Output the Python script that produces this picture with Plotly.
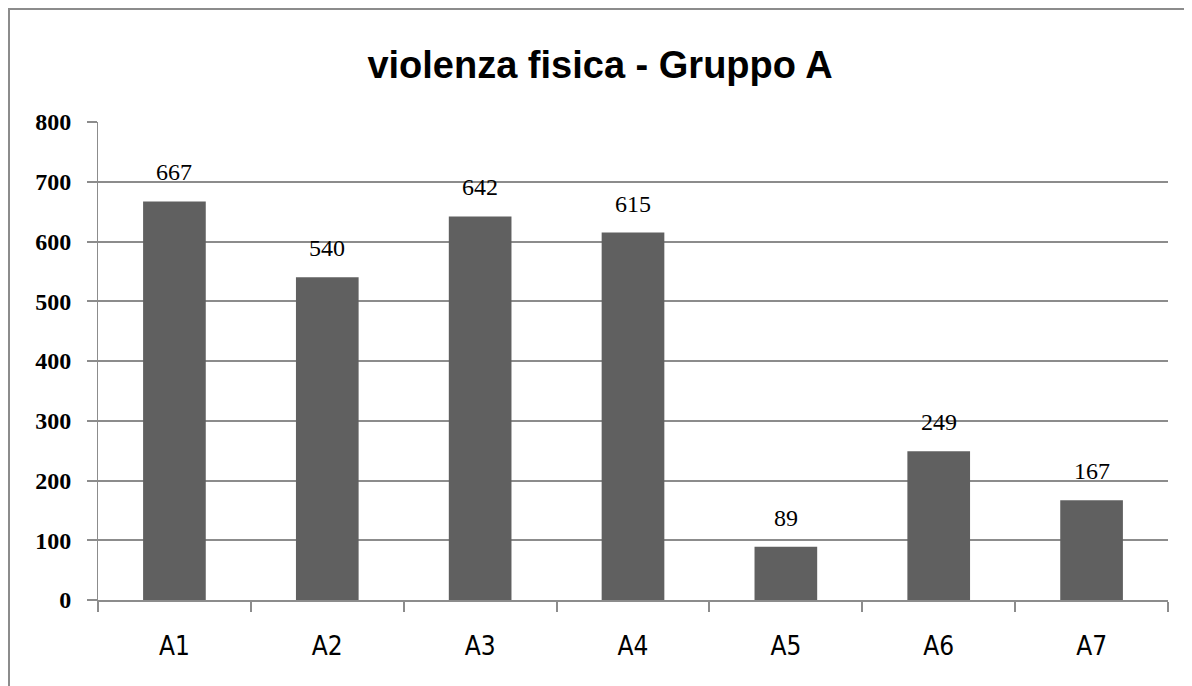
import plotly.graph_objects as go

categories = ["A1", "A2", "A3", "A4", "A5", "A6", "A7"]
values = [667, 540, 642, 615, 89, 249, 167]
y_ticks = [0, 100, 200, 300, 400, 500, 600, 700, 800]
title_text = "violenza fisica - Gruppo A"

# page has an 8px body margin, so figure is slightly smaller
W, H = 1184, 678
L, R, T, B = 90, 24, 114, 86
pw, ph = W - L - R, H - T - B

fig = go.Figure()
fig.add_trace(go.Bar(
    x=categories, y=values,
    marker=dict(color="#606060", line=dict(width=0)),
    width=0.41,
    hoverinfo="x+y",
))

for c, v in zip(categories, values):
    fig.add_annotation(
        x=c, y=v, text=str(v), showarrow=False,
        yshift=29, font=dict(family="Liberation Serif, Times New Roman", size=24, color="#000000"),
    )

# Chart border (left and top edges visible)
fig.add_shape(
    type="rect", xref="paper", yref="paper",
    x0=(1 - L) / pw, x1=(W + 20 - L) / pw,
    y0=-(B + 20) / ph, y1=(H - B - 1) / ph,
    line=dict(color="#8c8c8c", width=2), fillcolor="rgba(0,0,0,0)", layer="below",
)

fig.update_layout(
    width=W, height=H,
    margin=dict(l=L, r=R, t=T, b=B),
    paper_bgcolor="white", plot_bgcolor="white",
    showlegend=False,
    bargap=0.59,
    title=dict(
        text="<b>" + title_text + "</b>",
        x=0.5, xanchor="center", xref="container",
        y=1 - 57 / H, yanchor="middle",
        font=dict(family="Liberation Sans, Arial", size=38, color="#000000"),
    ),
    xaxis=dict(
        type="category",
        tickson="boundaries",
        ticks="outside", ticklen=10, tickcolor="#8c8c8c", tickwidth=2,
        showline=True, linecolor="#8c8c8c", linewidth=2,
        showgrid=False,
        tickfont=dict(family="Liberation Sans Narrow, DejaVu Sans Condensed, Liberation Sans, Arial", size=26, color="#000000"),
        ticklabelstandoff=22,
        range=[-0.5, 6.5],
    ),
    yaxis=dict(
        range=[0, 800],
        tickvals=y_ticks,
        ticktext=["<b>%d</b>" % v for v in y_ticks],
        ticks="outside", ticklen=10, tickcolor="#8c8c8c", tickwidth=2,
        showline=True, linecolor="#8c8c8c", linewidth=1,
        showgrid=True, gridcolor="#8c8c8c", gridwidth=2,
        zeroline=False,
        tickfont=dict(family="Liberation Serif, Times New Roman", size=24, color="#000000"),
        ticklabelstandoff=11,
    ),
)

fig.write_html("out.html")
